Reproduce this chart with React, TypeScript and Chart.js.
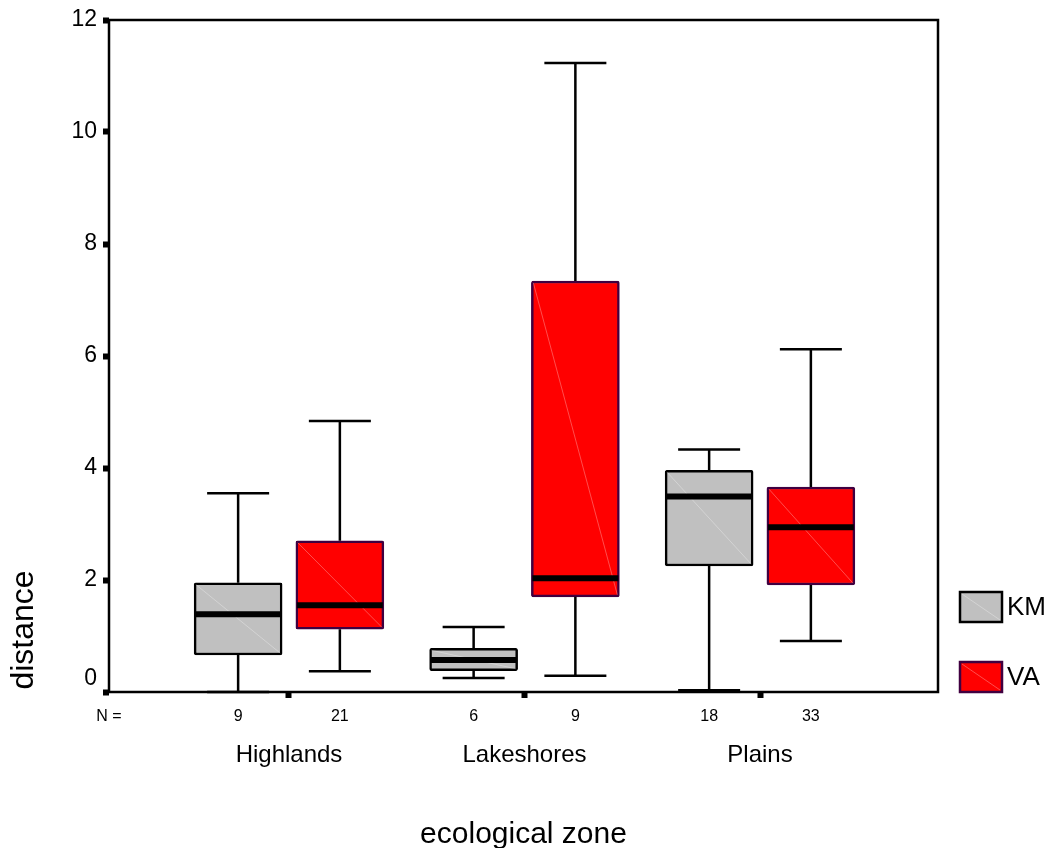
import React, { useEffect, useRef } from 'react';
import { Chart, registerables } from 'chart.js';

Chart.register(...registerables);

// ---- data ----
const categories = ['Highlands', 'Lakeshores', 'Plains'];
const seriesNames = ['KM', 'VA'];

const kmMin = [0.0, 0.25, 0.03];
const kmQ1 = [0.66, 0.38, 2.25];
const kmMedian = [1.39, 0.57, 3.49];
const kmQ3 = [1.95, 0.78, 3.96];
const kmMax = [3.55, 1.16, 4.33];
const kmN = [9, 6, 18];

const vaMin = [0.37, 0.29, 0.91];
const vaQ1 = [1.12, 1.7, 1.91];
const vaMedian = [1.55, 2.03, 2.94];
const vaQ3 = [2.7, 7.34, 3.66];
const vaMax = [4.84, 11.23, 6.12];
const vaN = [21, 9, 33];

const yTicks = [0, 2, 4, 6, 8, 10, 12];

// ---- style / layout constants ----
const FONT = "'Liberation Sans', Arial, Helvetica, sans-serif";
const GROUP_OFFSET = 0.216;
const BOX_W = 88;
const CAP_W = 62;

const boxPlugin = {
  id: 'boxExtras',
  afterDatasetsDraw(chart: any) {
    const ctx = chart.ctx;
    const ys = chart.scales.y;
    const ca = chart.chartArea;
    chart.data.datasets.forEach((ds: any, di: number) => {
      const meta = chart.getDatasetMeta(di);
      meta.data.forEach((bar: any, i: number) => {
        const cx = bar.x;
        const half = bar.width / 2;
        const left = cx - half;
        const right = cx + half;
        const pTop = ys.getPixelForValue(ds.q3[i]);
        const pBot = ys.getPixelForValue(ds.q1[i]);
        const pMed = ys.getPixelForValue(ds.median[i]);
        const pMax = ys.getPixelForValue(ds.max[i]);
        const pMin = ys.getPixelForValue(ds.min[i]);
        ctx.save();
        // faint diagonal sheen
        ctx.strokeStyle = 'rgba(255,255,255,0.3)';
        ctx.lineWidth = 1;
        ctx.beginPath();
        ctx.moveTo(left + 2, pTop + 2);
        ctx.lineTo(right - 2, pBot - 2);
        ctx.stroke();
        // whiskers
        ctx.strokeStyle = '#000';
        ctx.lineWidth = 2.5;
        ctx.beginPath();
        ctx.moveTo(cx, pTop);
        ctx.lineTo(cx, pMax);
        ctx.moveTo(cx - CAP_W / 2, pMax);
        ctx.lineTo(cx + CAP_W / 2, pMax);
        ctx.moveTo(cx, pBot);
        ctx.lineTo(cx, pMin);
        ctx.moveTo(cx - CAP_W / 2, pMin);
        ctx.lineTo(cx + CAP_W / 2, pMin);
        ctx.stroke();
        // median
        ctx.lineWidth = 6;
        ctx.beginPath();
        ctx.moveTo(left + 1, pMed);
        ctx.lineTo(right - 1, pMed);
        ctx.stroke();
        // N counts
        ctx.fillStyle = '#000';
        ctx.font = `16px ${FONT}`;
        ctx.textAlign = 'center';
        ctx.textBaseline = 'alphabetic';
        ctx.fillText(String(ds.n[i]), cx, 721);
        ctx.restore();
      });
    });

    ctx.save();
    // frame
    ctx.strokeStyle = '#000';
    ctx.lineWidth = 2.5;
    ctx.strokeRect(ca.left, ca.top, ca.right - ca.left, ca.bottom - ca.top);

    // N =
    ctx.fillStyle = '#000';
    ctx.font = `16px ${FONT}`;
    ctx.textAlign = 'center';
    ctx.textBaseline = 'alphabetic';
    ctx.fillText('N =', ca.left, 721);

    // legend
    chart.data.datasets.forEach((ds: any, di: number) => {
      const lx = 960;
      const ly = 592 + di * 70;
      ctx.fillStyle = ds.backgroundColor;
      ctx.fillRect(lx, ly, 42, 30);
      ctx.strokeStyle = 'rgba(255,255,255,0.3)';
      ctx.lineWidth = 1;
      ctx.beginPath();
      ctx.moveTo(lx + 2, ly + 2);
      ctx.lineTo(lx + 40, ly + 28);
      ctx.stroke();
      ctx.strokeStyle = ds.borderColor;
      ctx.lineWidth = 2.5;
      ctx.strokeRect(lx, ly, 42, 30);
      ctx.fillStyle = '#000';
      ctx.font = `26px ${FONT}`;
      ctx.textAlign = 'left';
      ctx.textBaseline = 'middle';
      ctx.fillText(ds.label, 1007, ly + 16);
    });

    // axis titles
    ctx.font = `30px ${FONT}`;
    ctx.textAlign = 'center';
    ctx.textBaseline = 'alphabetic';
    ctx.fillText('ecological zone', (ca.left + ca.right) / 2, 843);
    ctx.translate(33, 630);
    ctx.rotate(-Math.PI / 2);
    ctx.font = `32px ${FONT}`;
    ctx.fillText('distance', 0, 0);
    ctx.restore();
  },
};

function buildDataset(
  label: string,
  offset: number,
  mins: number[],
  q1: number[],
  med: number[],
  q3: number[],
  maxs: number[],
  ns: number[],
  fill: string,
  border: string
) {
  return {
    label,
    data: categories.map((_, i) => ({ x: i + 1 + offset, y: [q1[i], q3[i]] })),
    min: mins,
    q1,
    median: med,
    q3,
    max: maxs,
    n: ns,
    backgroundColor: fill,
    borderColor: border,
    borderWidth: 2.5,
    borderSkipped: false,
    borderRadius: 2,
    barThickness: BOX_W,
    maxBarThickness: BOX_W,
    barPercentage: 1,
    categoryPercentage: 1,
  };
}

export default function App() {
  const ref = useRef<HTMLCanvasElement>(null);

  useEffect(() => {
    const chart = new Chart(ref.current as HTMLCanvasElement, {
      type: 'bar',
      data: {
        datasets: [
          buildDataset(seriesNames[0], -GROUP_OFFSET, kmMin, kmQ1, kmMedian, kmQ3, kmMax, kmN, '#C0C0C0', '#000000'),
          buildDataset(seriesNames[1], GROUP_OFFSET, vaMin, vaQ1, vaMedian, vaQ3, vaMax, vaN, '#FF0000', '#400040'),
        ] as any,
      },
      options: {
        animation: false,
        responsive: false,
        grouped: false,
        layout: { padding: { top: 20, right: 112, bottom: 0, left: 0 } },
        plugins: {
          legend: { display: false },
          tooltip: { enabled: false },
        },
        scales: {
          x: {
            type: 'linear',
            offset: false,
            min: 0.2357,
            max: 3.7558,
            afterBuildTicks: (s: any) => {
              s.ticks = categories.map((_, i) => ({ value: i + 1 }));
            },
            afterFit: (s: any) => {
              s.height = 156;
            },
            border: { display: false },
            grid: {
              offset: false,
              drawOnChartArea: false,
              drawTicks: true,
              tickLength: 6,
              tickWidth: 6,
              tickColor: '#000',
              color: '#000',
            },
            ticks: {
              autoSkip: false,
              maxRotation: 0,
              padding: 43,
              color: '#000',
              font: { family: FONT, size: 24 },
              callback: (v: any) => categories[Math.round(v) - 1] ?? '',
            },
          },
          y: {
            type: 'linear',
            min: 0,
            max: 12,
            afterBuildTicks: (s: any) => {
              s.ticks = yTicks.map((v) => ({ value: v }));
            },
            afterFit: (s: any) => {
              s.width = 109;
            },
            border: { display: false },
            grid: {
              drawOnChartArea: false,
              drawTicks: true,
              tickLength: 6,
              tickWidth: 6,
              tickColor: '#000',
              color: '#000',
            },
            ticks: {
              padding: 6,
              color: '#000',
              font: { family: FONT, size: 23 },
              callback: (v: any) => (v === 0 ? ['0', ''] : String(v)),
            },
          },
        },
      } as any,
      plugins: [boxPlugin],
    });
    return () => chart.destroy();
  }, []);

  return (
    <div style={{ position: 'absolute', left: 0, top: 0, width: 1050, height: 848, background: '#fff' }}>
      <canvas ref={ref} width={1050} height={848} style={{ width: 1050, height: 848, display: 'block' }} />
    </div>
  );
}
